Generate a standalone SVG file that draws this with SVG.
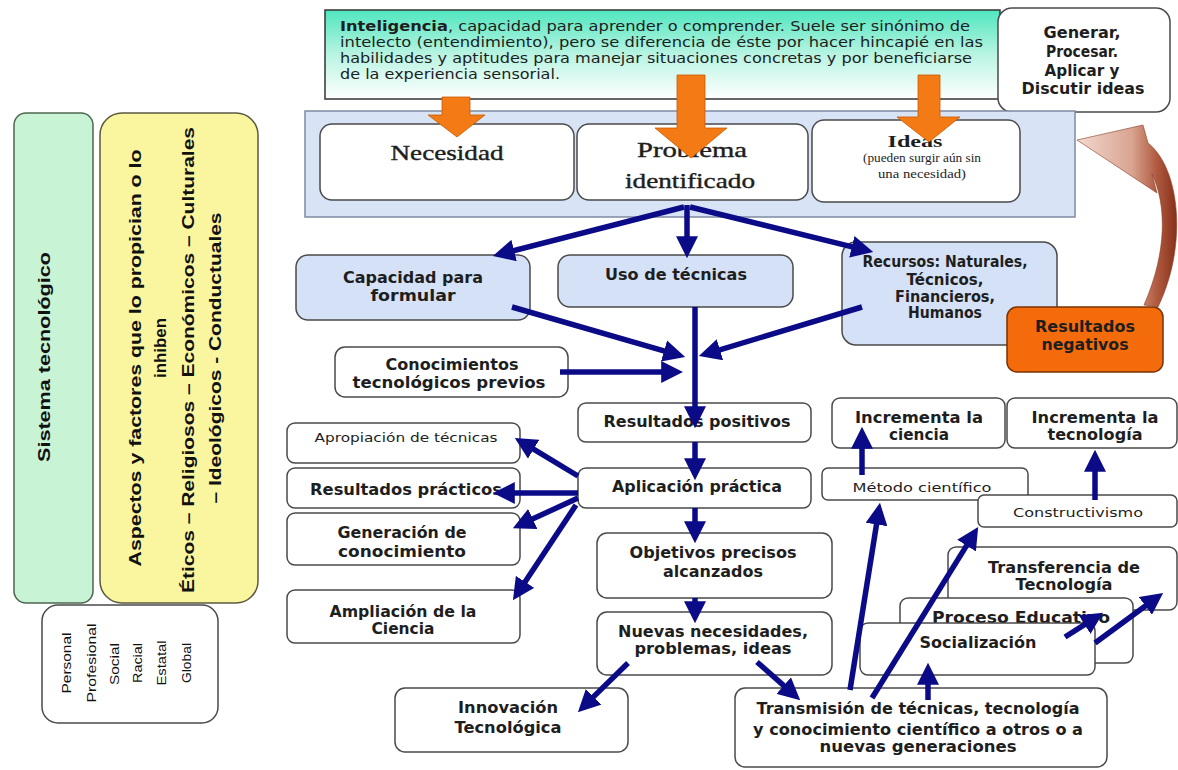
<svg xmlns="http://www.w3.org/2000/svg" width="1178" height="770" viewBox="0 0 1178 770">
<defs>
<linearGradient id="gGreen" x1="0" y1="0" x2="0" y2="1">
<stop offset="0" stop-color="#4FE6BE"/><stop offset="0.5" stop-color="#B8F4E2"/><stop offset="1" stop-color="#FFFFFF"/>
</linearGradient>
<linearGradient id="gCurve" x1="0" y1="0" x2="1" y2="0">
<stop offset="0" stop-color="#F3D9D0"/><stop offset="0.55" stop-color="#D9A490"/><stop offset="0.8" stop-color="#B05A40"/><stop offset="1" stop-color="#86301A"/>
</linearGradient>
<marker id="ah" viewBox="0 0 10 10" refX="4" refY="5" markerWidth="4" markerHeight="4" orient="auto">
<path d="M0,0 L10,5 L0,10 z" fill="#0B0B88"/>
</marker>
<clipPath id="clipCon"><rect x="335" y="347" width="233" height="45"/></clipPath>
</defs>
<style>
.box{fill:#FFFFFF;stroke:#4A4A4A;stroke-width:1.5}
.blue{fill:#D4E1F6;stroke:#4A4A4A;stroke-width:1.5}
.b{font-family:"DejaVu Sans","Liberation Sans",sans-serif;font-weight:bold;font-size:15px;fill:#1E1E1E;text-anchor:middle}
.r{font-family:"DejaVu Sans","Liberation Sans",sans-serif;font-size:13px;fill:#1E1E1E;text-anchor:middle}
.s{font-family:"Liberation Serif","DejaVu Serif",serif;fill:#1E1E1E;text-anchor:middle}
.v{font-family:"Liberation Sans",Arial,sans-serif;font-weight:bold;font-size:16px;fill:#111;text-anchor:middle}
.p{font-family:"Liberation Sans",Arial,sans-serif;font-size:12px;fill:#111;text-anchor:middle}
.c{stroke:#0B0B88;stroke-width:5.5;fill:none;marker-end:url(#ah)}
.o{fill:#F37A14;stroke:#C65A00;stroke-width:0.8}
</style>
<rect width="1178" height="770" fill="#FFFFFF"/>

<g id="n-sistema">
<rect x="14" y="113" width="79" height="490" rx="12" fill="#C8F3D4" stroke="#4D6650" stroke-width="1.5"/>
<text class="v" font-size="18" transform="translate(50,357) rotate(-90)" textLength="210" lengthAdjust="spacingAndGlyphs">Sistema tecnológico</text>
</g>
<g id="n-aspectos">
<rect x="100" y="113" width="158" height="490" rx="22" fill="#FAF6A0" stroke="#5A5A40" stroke-width="1.5"/>
<text class="v" transform="translate(141,358) rotate(-90)" textLength="417" lengthAdjust="spacingAndGlyphs">Aspectos y factores que lo propician o lo</text>
<text class="v" transform="translate(166,348) rotate(-90)" textLength="60" lengthAdjust="spacingAndGlyphs">inhiben</text>
<text class="v" transform="translate(194,360) rotate(-90)" textLength="466" lengthAdjust="spacingAndGlyphs">Éticos – Religiosos – Económicos – Culturales</text>
<text class="v" transform="translate(221,358) rotate(-90)" textLength="291" lengthAdjust="spacingAndGlyphs">– Ideológicos - Conductuales</text>
</g>
<g id="n-personal">
<rect x="42" y="605" width="176" height="118" rx="16" class="box"/>
<text class="p" transform="translate(71,663) rotate(-90)" textLength="61" lengthAdjust="spacingAndGlyphs">Personal</text>
<text class="p" transform="translate(96,663) rotate(-90)" textLength="79" lengthAdjust="spacingAndGlyphs">Profesional</text>
<text class="p" transform="translate(119,664) rotate(-90)" textLength="42" lengthAdjust="spacingAndGlyphs">Social</text>
<text class="p" transform="translate(142,663) rotate(-90)" textLength="40" lengthAdjust="spacingAndGlyphs">Racial</text>
<text class="p" transform="translate(166,663) rotate(-90)" textLength="45" lengthAdjust="spacingAndGlyphs">Estatal</text>
<text class="p" transform="translate(191,663) rotate(-90)" textLength="40" lengthAdjust="spacingAndGlyphs">Global</text>
</g>

<g id="n-inteligencia">
<rect x="325" y="10" width="675" height="89" fill="url(#gGreen)" stroke="#333" stroke-width="1.5"/>
<g font-family="'DejaVu Sans','Liberation Sans',sans-serif" font-size="13.5" fill="#1E1E1E">
<text x="340" y="31" textLength="630" lengthAdjust="spacingAndGlyphs"><tspan font-weight="bold">Inteligencia</tspan>, capacidad para aprender o comprender. Suele ser sinónimo de</text>
<text x="340" y="47" textLength="643" lengthAdjust="spacingAndGlyphs">intelecto (entendimiento), pero se diferencia de éste por hacer hincapié en las</text>
<text x="340" y="63" textLength="632" lengthAdjust="spacingAndGlyphs">habilidades y aptitudes para manejar situaciones concretas y por beneficiarse</text>
<text x="340" y="79" textLength="220" lengthAdjust="spacingAndGlyphs">de la experiencia sensorial.</text>
</g>
</g>
<g id="n-generar">
<rect x="998" y="8" width="172" height="104" rx="14" class="box"/>
<text class="b" font-size="14" x="1082" y="38" textLength="77" lengthAdjust="spacingAndGlyphs">Generar,</text>
<text class="b" font-size="14" x="1082" y="57" textLength="72" lengthAdjust="spacingAndGlyphs">Procesar.</text>
<text class="b" font-size="14" x="1082" y="76" textLength="75" lengthAdjust="spacingAndGlyphs">Aplicar y</text>
<text class="b" font-size="14" x="1083" y="94" textLength="123" lengthAdjust="spacingAndGlyphs">Discutir ideas</text>
</g>

<g id="n-band">
<rect x="305" y="111" width="770" height="106" fill="#D8E3F6" stroke="#7D8AA0" stroke-width="1.5"/>
</g>
<g id="n-necesidad">
<rect x="320" y="124" width="254" height="76" rx="12" class="box"/>
<text class="s" font-size="22" x="447" y="160" stroke="#1E1E1E" stroke-width="0.4" textLength="113" lengthAdjust="spacingAndGlyphs">Necesidad</text>
</g>
<g id="n-problema">
<rect x="577" y="124" width="231" height="76" rx="12" class="box"/>
<text class="s" font-size="22" x="692" y="157" stroke="#1E1E1E" stroke-width="0.4" textLength="110" lengthAdjust="spacingAndGlyphs">Problema</text>
<text class="s" font-size="22" x="690" y="188" stroke="#1E1E1E" stroke-width="0.4" textLength="130" lengthAdjust="spacingAndGlyphs">identificado</text>
</g>
<g id="n-ideas">
<rect x="812" y="120" width="208" height="82" rx="12" class="box"/>
<text class="s" font-size="16" font-weight="bold" x="915" y="147" textLength="55" lengthAdjust="spacingAndGlyphs">Ideas</text>
<text class="s" font-size="13.5" x="922" y="162" textLength="118" lengthAdjust="spacingAndGlyphs">(pueden surgir aún sin</text>
<text class="s" font-size="13.5" x="922" y="178" textLength="88" lengthAdjust="spacingAndGlyphs">una necesidad)</text>
</g>

<g id="n-capacidad">
<rect x="296" y="255" width="234" height="65" rx="12" class="blue"/>
<text class="b" x="413" y="283" textLength="140" lengthAdjust="spacingAndGlyphs">Capacidad para</text>
<text class="b" x="413" y="301" textLength="85" lengthAdjust="spacingAndGlyphs">formular</text>
</g>
<g id="n-uso">
<rect x="558" y="255" width="235" height="52" rx="12" class="blue"/>
<text class="b" x="676" y="280" textLength="142" lengthAdjust="spacingAndGlyphs">Uso de técnicas</text>
</g>
<g id="n-recursos">
<rect x="842" y="242" width="215" height="103" rx="14" class="blue"/>
<text class="b" font-size="14" x="945" y="267" textLength="165" lengthAdjust="spacingAndGlyphs">Recursos: Naturales,</text>
<text class="b" font-size="14" x="945" y="285" textLength="77" lengthAdjust="spacingAndGlyphs">Técnicos,</text>
<text class="b" font-size="14" x="945" y="302" textLength="100" lengthAdjust="spacingAndGlyphs">Financieros,</text>
<text class="b" font-size="14" x="945" y="318" textLength="74" lengthAdjust="spacingAndGlyphs">Humanos</text>
</g>
<g id="n-negativos">
<rect x="1007" y="307" width="156" height="65" rx="10" fill="#F46B0C" stroke="#7A3300" stroke-width="1.5"/>
<text class="b" x="1085" y="332" textLength="100" lengthAdjust="spacingAndGlyphs">Resultados</text>
<text class="b" x="1085" y="350" textLength="87" lengthAdjust="spacingAndGlyphs">negativos</text>
</g>
<g id="n-conocimientos">
<rect x="335" y="347" width="233" height="50" rx="10" class="box"/>
<g clip-path="url(#clipCon)">
<text class="b" x="452" y="370" textLength="133" lengthAdjust="spacingAndGlyphs">Conocimientos</text>
<text class="b" x="449" y="388" textLength="193" lengthAdjust="spacingAndGlyphs">tecnológicos previos</text>
</g>
</g>

<g id="n-respos">
<rect x="578" y="403" width="233" height="39" rx="8" class="box"/>
<text class="b" x="697" y="427" textLength="187" lengthAdjust="spacingAndGlyphs">Resultados positivos</text>
</g>
<g id="n-aplicacion">
<rect x="578" y="468" width="233" height="40" rx="8" class="box"/>
<text class="b" x="697" y="492" textLength="170" lengthAdjust="spacingAndGlyphs">Aplicación práctica</text>
</g>
<g id="n-objetivos">
<rect x="597" y="533" width="235" height="65" rx="10" class="box"/>
<text class="b" x="713" y="558" textLength="167" lengthAdjust="spacingAndGlyphs">Objetivos precisos</text>
<text class="b" x="713" y="577" textLength="100" lengthAdjust="spacingAndGlyphs">alcanzados</text>
</g>
<g id="n-nuevas">
<rect x="597" y="612" width="235" height="63" rx="10" class="box"/>
<text class="b" x="713" y="637" textLength="190" lengthAdjust="spacingAndGlyphs">Nuevas necesidades,</text>
<text class="b" x="713" y="654" textLength="157" lengthAdjust="spacingAndGlyphs">problemas, ideas</text>
</g>

<g id="n-apropiacion">
<rect x="287" y="423" width="233" height="40" rx="8" class="box"/>
<text class="r" font-size="12" x="406" y="442" textLength="183" lengthAdjust="spacingAndGlyphs">Apropiación de técnicas</text>
</g>
<g id="n-respract">
<rect x="287" y="468" width="233" height="40" rx="8" class="box"/>
<text class="b" x="406" y="495" textLength="192" lengthAdjust="spacingAndGlyphs">Resultados prácticos</text>
</g>
<g id="n-generacion">
<rect x="287" y="513" width="233" height="52" rx="8" class="box"/>
<text class="b" x="402" y="538" textLength="129" lengthAdjust="spacingAndGlyphs">Generación de</text>
<text class="b" x="402" y="557" textLength="128" lengthAdjust="spacingAndGlyphs">conocimiento</text>
</g>
<g id="n-ampliacion">
<rect x="287" y="590" width="233" height="53" rx="8" class="box"/>
<text class="b" x="403" y="617" textLength="147" lengthAdjust="spacingAndGlyphs">Ampliación de la</text>
<text class="b" x="403" y="634" textLength="63" lengthAdjust="spacingAndGlyphs">Ciencia</text>
</g>

<g id="n-inc-ciencia">
<rect x="832" y="398" width="173" height="50" rx="8" class="box"/>
<text class="b" x="919" y="423" textLength="128" lengthAdjust="spacingAndGlyphs">Incrementa la</text>
<text class="b" x="919" y="440" textLength="60" lengthAdjust="spacingAndGlyphs">ciencia</text>
</g>
<g id="n-inc-tecnologia">
<rect x="1007" y="398" width="170" height="50" rx="8" class="box"/>
<text class="b" x="1095" y="423" textLength="127" lengthAdjust="spacingAndGlyphs">Incrementa la</text>
<text class="b" x="1095" y="440" textLength="95" lengthAdjust="spacingAndGlyphs">tecnología</text>
</g>
<g id="n-metodo">
<rect x="822" y="468" width="206" height="32" rx="6" class="box"/>
<text class="r" x="922" y="492" textLength="139" lengthAdjust="spacingAndGlyphs">Método científico</text>
</g>
<g id="n-constructivismo">
<rect x="978" y="495" width="199" height="32" rx="6" class="box"/>
<text class="r" x="1078" y="517" textLength="130" lengthAdjust="spacingAndGlyphs">Constructivismo</text>
</g>
<g id="n-transferencia">
<rect x="948" y="547" width="229" height="63" rx="8" class="box"/>
<text class="b" x="1064" y="573" textLength="152" lengthAdjust="spacingAndGlyphs">Transferencia de</text>
<text class="b" x="1064" y="590" textLength="97" lengthAdjust="spacingAndGlyphs">Tecnología</text>
</g>
<g id="n-proceso">
<rect x="900" y="598" width="233" height="65" rx="8" class="box"/>
<text class="b" x="932" y="623" style="text-anchor:start" textLength="178" lengthAdjust="spacingAndGlyphs">Proceso Educativo</text>
</g>
<g id="n-socializacion">
<rect x="860" y="623" width="235" height="52" rx="8" class="box"/>
<text class="b" x="978" y="648" textLength="117" lengthAdjust="spacingAndGlyphs">Socialización</text>
</g>
<g id="n-innovacion">
<rect x="395" y="688" width="233" height="64" rx="10" class="box"/>
<text class="b" x="508" y="713" textLength="100" lengthAdjust="spacingAndGlyphs">Innovación</text>
<text class="b" x="508" y="733" textLength="107" lengthAdjust="spacingAndGlyphs">Tecnológica</text>
</g>
<g id="n-transmision">
<rect x="735" y="688" width="372" height="79" rx="10" class="box"/>
<text class="b" x="918" y="714" textLength="323" lengthAdjust="spacingAndGlyphs">Transmisión de técnicas, tecnología</text>
<text class="b" x="918" y="735" textLength="330" lengthAdjust="spacingAndGlyphs">y conocimiento científico a otros o a</text>
<text class="b" x="918" y="752" textLength="197" lengthAdjust="spacingAndGlyphs">nuevas generaciones</text>
</g>

<g id="connectors">
<polygon class="o" points="442,97 470,97 470,115 485,115 457,137 428,115 442,115"/>
<polygon class="o" points="677,75 705,75 705,128 727,128 691,158 655,128 677,128"/>
<polygon class="o" points="918,75 940,75 940,117 960,117 929,142 897,117 918,117"/>
<path d="M1077,140 L1143,125 L1148,143 C1180,168 1188,245 1158,307 L1144,305 C1168,250 1166,203 1152,174 L1157,193 Z" fill="url(#gCurve)" stroke="#8A3A25" stroke-width="0.6"/>
<line class="c" x1="684" y1="207" x2="505.6" y2="252.7"/>
<line class="c" x1="687" y1="205" x2="687" y2="245"/>
<line class="c" x1="690" y1="207" x2="860.4" y2="248.9"/>
<line class="c" x1="512" y1="307" x2="672.5" y2="353.4"/>
<line class="c" x1="862" y1="307" x2="711.5" y2="352.3"/>
<line class="c" x1="560" y1="372" x2="670" y2="372"/>
<line class="c" x1="695" y1="307" x2="695" y2="415"/>
<line class="c" x1="695" y1="442" x2="695" y2="467"/>
<line class="c" x1="695" y1="508" x2="695" y2="530"/>
<line class="c" x1="695" y1="598" x2="695" y2="610"/>
<line class="c" x1="578" y1="476" x2="526.1" y2="444.7"/>
<line class="c" x1="578" y1="493" x2="506" y2="493"/>
<line class="c" x1="578" y1="498" x2="524.8" y2="522.6"/>
<line class="c" x1="576" y1="505" x2="520.2" y2="589.2"/>
<line class="c" x1="862" y1="475" x2="862" y2="440"/>
<line class="c" x1="1095" y1="500" x2="1095" y2="463"/>
<line class="c" x1="850" y1="690" x2="877.9" y2="515.8"/>
<line class="c" x1="872" y1="698" x2="971.2" y2="538.1"/>
<line class="c" x1="928" y1="700" x2="928" y2="676"/>
<line class="c" x1="1065" y1="637" x2="1092" y2="619.9"/>
<line class="c" x1="1095" y1="643" x2="1152.5" y2="600.7"/>
<line class="c" x1="628" y1="663" x2="587.3" y2="702.9"/>
<line class="c" x1="757" y1="662" x2="790.3" y2="691.4"/>
</g>
</svg>
